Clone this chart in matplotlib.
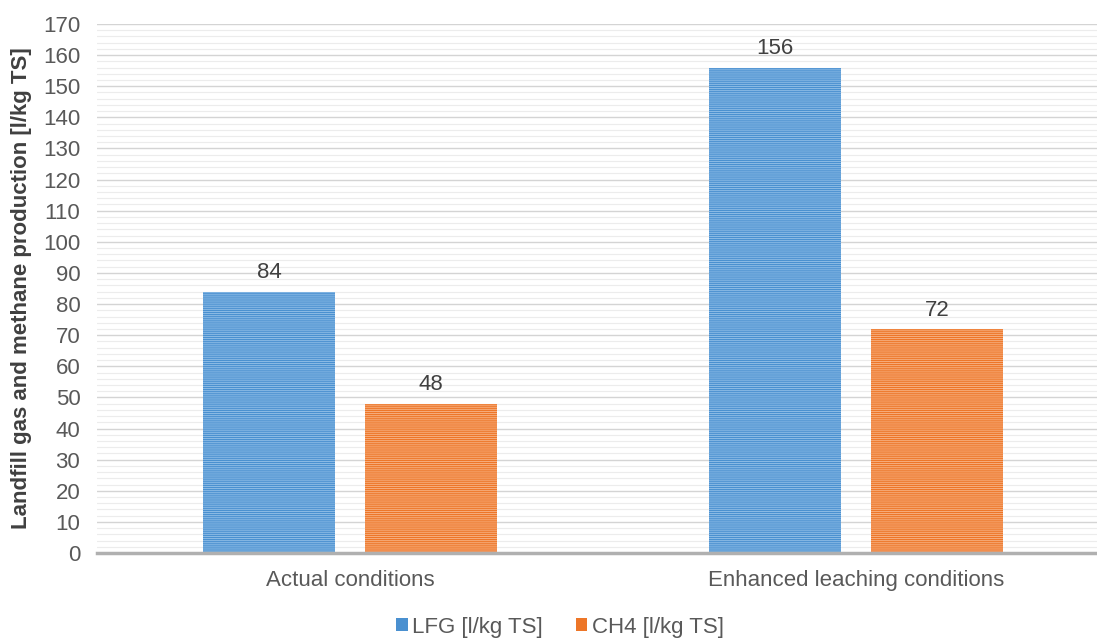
import numpy as np
import matplotlib.pyplot as plt
from matplotlib.patches import Patch

plt.rcParams['font.family'] = ['Liberation Sans', 'DejaVu Sans']
plt.rcParams['hatch.linewidth'] = 0.7

categories = ['Actual conditions', 'Enhanced leaching conditions']
lfg = [84, 156]
ch4 = [48, 72]
series_names = ['LFG [l/kg TS]', 'CH4 [l/kg TS]']
yticks = list(range(0, 171, 10))

blue, blue_hatch = '#4a90d0', '#8dbce6'
orange, orange_hatch = '#ed7628', '#f7ae7e'
text_col = '#595959'
fs = 16

fig = plt.figure(figsize=(10.97, 6.39), dpi=100)
ax = fig.add_axes([97 / 1097, 1 - 553 / 639, 1012 / 1097, (553 - 24) / 639])

x = np.arange(len(categories))
w = 0.26
off = 0.16

b1 = ax.bar(x - off, lfg, w, color=blue, edgecolor=blue_hatch, linewidth=0,
            hatch='-' * 8, label=series_names[0], zorder=3)
b2 = ax.bar(x + off, ch4, w, color=orange, edgecolor=orange_hatch, linewidth=0,
            hatch='-' * 8, label=series_names[1], zorder=3)

for bars, vals in ((b1, lfg), (b2, ch4)):
    for r, v in zip(bars, vals):
        ax.annotate(str(v), (r.get_x() + r.get_width() / 2, v), xytext=(0, 6),
                    textcoords='offset points', ha='center', va='bottom',
                    fontsize=fs, color='#404040')

ax.set_xlim(-0.5, 1.5)
ax.set_ylim(0, 170)
ax.set_yticks(yticks)
ax.set_yticks(np.arange(0, 171, 2), minor=True)
ax.set_xticks(x)
ax.set_xticklabels(categories)
ax.tick_params(axis='both', length=0, labelsize=fs, colors=text_col)
ax.tick_params(axis='y', pad=12)
ax.tick_params(axis='x', pad=12)
ax.tick_params(axis='y', which='minor', length=0)

ax.grid(axis='y', which='major', color='#d4d4d4', linewidth=1.0, zorder=0)
ax.grid(axis='y', which='minor', color='#ececec', linewidth=0.8, zorder=0)
ax.set_axisbelow(True)

for s in ('left', 'right', 'top'):
    ax.spines[s].set_visible(False)
ax.spines['bottom'].set_color('#b0b0b0')
ax.spines['bottom'].set_linewidth(2.5)
ax.spines['bottom'].set_zorder(4)

ax.set_ylabel('Landfill gas and methane production [l/kg TS]', fontsize=fs,
              fontweight='bold', color='#404040', labelpad=8)

handles = [Patch(facecolor=blue), Patch(facecolor=orange)]
fig.legend(handles, series_names, loc='center', bbox_to_anchor=(560 / 1097, 1 - 627 / 639),
           ncol=2, frameon=False, fontsize=fs, handlelength=0.5, handleheight=0.5,
           handletextpad=0.2, columnspacing=1.5, labelcolor=text_col)

fig.savefig('out.png', dpi=100)
